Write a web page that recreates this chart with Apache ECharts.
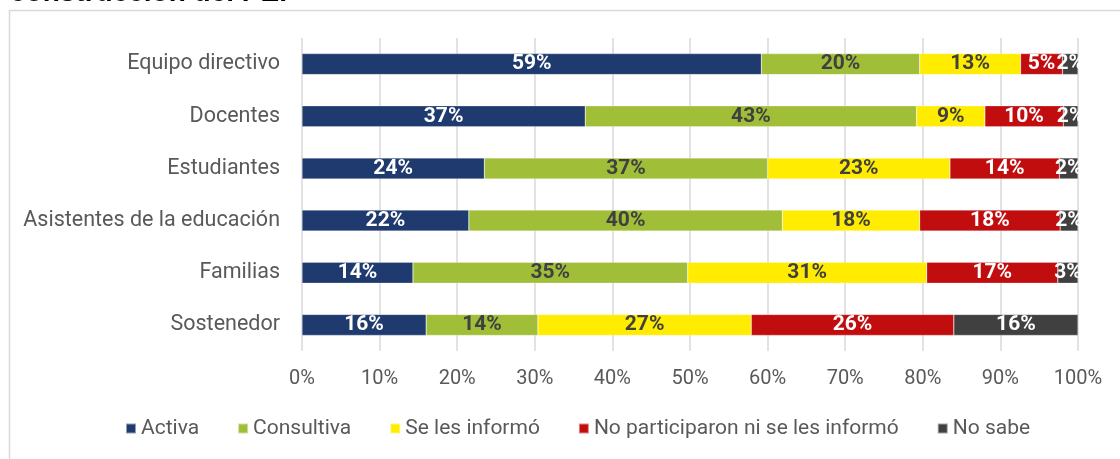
<!DOCTYPE html>
<html lang="es">
<head>
    <meta charset="UTF-8">
    <title>Participación en la construcción del PEI</title>
    <script src="https://cdn.jsdelivr.net/npm/echarts@6/dist/echarts.min.js"></script>
    <style>
        html, body { margin: 0; padding: 0; background: #fff; }
    </style>
</head>
<body>
<div id="main" style="width: 1120px;height:459px;"></div>
<script type="text/javascript">
    // categorias (de arriba hacia abajo)
    var categorias = ['Equipo directivo', 'Docentes', 'Estudiantes', 'Asistentes de la educación', 'Familias', 'Sostenedor'];
    var nombres = ['Activa', 'Consultiva', 'Se les informó', 'No participaron ni se les informó', 'No sabe'];
    var colores = ['#1f3a6e', '#a1be38', '#ffec00', '#c20d0f', '#404040'];
    var colorEtiqueta = ['#ffffff', '#404040', '#404040', '#ffffff', '#ffffff'];

    // valores en %
    var activa = [59.2, 36.5, 23.5, 21.5, 14.3, 16.0];
    var consultiva = [20.4, 42.7, 36.5, 40.4, 35.4, 14.4];
    var seLesInformo = [13.0, 8.8, 23.5, 17.7, 30.8, 27.5];
    var noParticiparon = [5.4, 10.1, 14.1, 18.1, 16.9, 26.1];
    var noSabe = [2.0, 1.9, 2.4, 2.3, 2.6, 16.0];
    // etiquetas mostradas en cada barra
    var etiquetas = [
        [59, 37, 24, 22, 14, 16],
        [20, 43, 37, 40, 35, 14],
        [13, 9, 23, 18, 31, 27],
        [5, 10, 14, 18, 17, 26],
        [2, 2, 2, 2, 3, 16]
    ];
    var ticksX = [0, 10, 20, 30, 40, 50, 60, 70, 80, 90, 100];

    var valores = [activa, consultiva, seLesInformo, noParticiparon, noSabe];
    var fuente = 'Roboto, "Noto Sans", sans-serif';

    var series = valores.map(function (v, i) {
        return {
            name: nombres[i],
            type: 'bar',
            stack: 'total',
            barWidth: 21,
            data: v,
            itemStyle: {color: colores[i], borderColor: 'rgba(255,255,255,0.5)', borderWidth: 0.5},
            label: {
                show: true,
                position: 'inside',
                color: colorEtiqueta[i],
                fontFamily: fuente,
                fontWeight: 'bold',
                fontSize: 21,
                formatter: function (p) {
                    return etiquetas[i][p.dataIndex] + '%';
                }
            }
        };
    });

    var option = {
        animation: false,
        textStyle: {fontFamily: fuente},
        graphic: [
            {
                type: 'rect',
                shape: {x: 9.5, y: 10.5, width: 1300, height: 600},
                style: {fill: 'none', stroke: '#d9d9d9', lineWidth: 1.5},
                silent: true
            },
            {
                type: 'text',
                x: 10,
                y: 7,
                style: {
                    text: 'construcción del PEI',
                    font: 'bold 28px "Liberation Sans", Arial, sans-serif',
                    fill: '#000',
                    textVerticalAlign: 'bottom'
                }
            }
        ],
        legend: {
            data: nombres,
            bottom: 15,
            left: 120,
            itemWidth: 10,
            itemHeight: 10,
            itemGap: 38,
            icon: 'rect',
            textStyle: {color: '#595959', fontSize: 21, fontFamily: fuente}
        },
        grid: {
            left: 302,
            right: 42,
            top: 38,
            bottom: 108
        },
        xAxis: {
            type: 'value',
            min: 0,
            max: 100,
            interval: 10,
            axisLine: {show: false},
            axisTick: {show: false},
            splitLine: {lineStyle: {color: '#d9d9d9', width: 1.5}},
            axisLabel: {
                color: '#595959',
                fontSize: 20,
                margin: 18,
                formatter: function (v) {
                    return ticksX.indexOf(v) >= 0 ? v + '%' : '';
                }
            }
        },
        yAxis: {
            type: 'category',
            inverse: true,
            data: categorias,
            axisLine: {show: false},
            axisTick: {show: false},
            axisLabel: {color: '#595959', fontSize: 21.5, margin: 22}
        },
        series: series
    };

    var myChart = echarts.init(document.getElementById('main'));
    myChart.setOption(option);
</script>
</body>
</html>
